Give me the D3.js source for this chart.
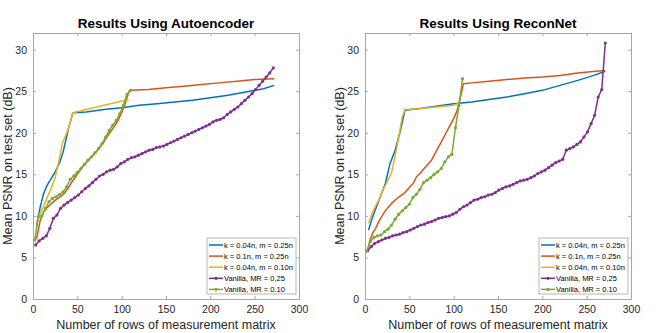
<!DOCTYPE html>
<html>
<head>
<meta charset="utf-8">
<script src="https://cdn.jsdelivr.net/npm/d3@7"></script>
<style>
  body { margin: 0; background: #fff; }
  svg { display: block; font-family: "Liberation Sans", Arial, sans-serif; }
</style>
</head>
<body>
<div id="chart"></div>
<script>
// series labels and colours (MATLAB default order)
const seriesLabels = ["k = 0.04n, m = 0.25n", "k = 0.1n, m = 0.25n", "k = 0.04n, m = 0.10n",
                      "Vanilla, MR = 0,25", "Vanilla, MR = 0.10"];
const seriesColors = ["#0072BD", "#D95319", "#EDB120", "#7E2F8E", "#77AC30"];
const xTicks = [0, 50, 100, 150, 200, 250, 300];
const yTicks = [0, 5, 10, 15, 20, 25, 30];

// rows of measurement matrix used by the vanilla runs
const vanilla25Rows = [3, 7, 11, 15, 19, 23, 27, 31, 35, 39, 43, 47, 51, 55, 59, 63, 67, 71, 75, 79,
  83, 87, 91, 95, 99, 103, 107, 111, 115, 119, 123, 127, 131, 135, 139, 143, 147, 151, 155, 159,
  163, 167, 171, 175, 179, 183, 187, 191, 195, 199, 203, 207, 211, 215, 219, 223, 227, 231, 235, 239,
  243, 247, 251, 255, 259, 263, 267, 271];
const vanilla10Rows = [2, 6, 10, 14, 18, 22, 26, 30, 34, 38, 42, 46, 50, 54, 58, 62, 66, 70, 74, 78,
  82, 86, 90, 94, 98, 102, 106, 110];

// ---- Autoencoder panel ----
const aeK04M25Rows = [4, 8, 12, 16, 20, 25, 30, 34, 40, 45, 60, 80, 100, 120, 140, 160, 180, 200, 220, 240, 260, 272];
const aeK04M25Psnr = [8.8, 11.0, 12.7, 13.7, 14.4, 15.3, 16.4, 17.7, 20.5, 22.4, 22.5, 22.8, 23.0, 23.3, 23.5, 23.7, 23.9, 24.2, 24.5, 24.9, 25.3, 25.7];
const aeK1M25Rows = [4, 8, 12, 16, 20, 24, 28, 32, 36, 40, 44, 48, 52, 56, 60, 64, 68, 72, 76, 80, 84, 88,
  92, 96, 100, 104, 108, 110, 130, 150, 170, 190, 210, 230, 250, 272];
const aeK1M25Psnr = [7.2, 9.4, 10.5, 11.0, 11.4, 11.8, 12.1, 12.4, 12.8, 13.4, 14.1, 14.7, 15.3, 15.9, 16.4, 16.9,
  17.3, 17.8, 18.3, 18.9, 19.6, 20.2, 20.8, 21.5, 22.4, 23.5, 24.9, 25.1, 25.2, 25.4, 25.6, 25.8, 26.0, 26.2, 26.4, 26.5];
const aeK04M10Rows = [4, 8, 12, 16, 20, 25, 30, 33, 40, 45, 60, 80, 100, 108];
const aeK04M10Psnr = [9.1, 10.3, 11.2, 12.2, 13.2, 14.6, 17.0, 18.7, 20.5, 22.4, 22.8, 23.3, 23.8, 23.9];
const aeVanilla25Psnr = [6.5, 7.0, 7.3, 7.6, 8.5, 9.7, 10.1, 10.9, 11.3, 11.6, 11.9, 12.2, 12.5, 12.9, 13.3, 13.6,
  14.0, 14.4, 14.8, 15.0, 15.3, 15.5, 15.6, 15.9, 16.3, 16.5, 16.8, 17.0, 17.1, 17.3, 17.5, 17.7, 17.9, 18.0,
  18.2, 18.3, 18.4, 18.6, 18.8, 19.0, 19.2, 19.4, 19.6, 19.8, 20.0, 20.2, 20.4, 20.6, 20.8, 21.0, 21.3, 21.5,
  21.6, 21.8, 22.2, 22.5, 22.8, 23.1, 23.5, 23.9, 24.3, 24.7, 25.2, 25.7, 26.2, 26.7, 27.2, 27.8];
const aeVanilla10Psnr = [7.1, 9.9, 10.0, 10.9, 11.7, 12.1, 12.3, 12.6, 12.9, 13.5, 14.4, 14.8, 15.2, 15.7, 16.2,
  16.7, 17.1, 17.6, 18.1, 18.7, 19.5, 20.3, 20.9, 21.5, 22.3, 23.3, 24.6, 25.1];

// ---- ReconNet panel ----
const rnK04M25Rows = [4, 8, 13, 18, 23, 28, 34, 40, 45, 60, 80, 100, 120, 140, 160, 180, 200, 220, 240, 258, 271];
const rnK04M25Psnr = [8.3, 9.7, 11.1, 12.5, 13.9, 16.2, 17.9, 20.3, 22.7, 22.9, 23.2, 23.5, 23.7, 24.0, 24.3, 24.7, 25.1, 25.7, 26.3, 26.9, 27.4];
const rnK1M25Rows = [3, 6, 9, 12, 15, 18, 21, 25, 30, 35, 40, 45, 50, 55, 58, 62, 66, 70, 75, 80, 85, 90, 95,
  100, 104, 108, 111, 120, 140, 160, 180, 200, 220, 240, 260, 271];
const rnK1M25Psnr = [5.9, 7.2, 8.0, 8.5, 9.2, 9.8, 10.3, 10.9, 11.5, 12.0, 12.4, 12.8, 13.4, 14.0, 14.7, 15.1, 15.6,
  16.1, 16.7, 17.7, 18.7, 19.7, 20.7, 21.7, 22.7, 24.4, 25.9, 26.0, 26.2, 26.4, 26.6, 26.7, 26.9, 27.2, 27.4, 27.5];
const rnK04M10Rows = [4, 8, 12, 16, 20, 25, 30, 36, 42, 45, 60, 80, 100, 107];
const rnK04M10Psnr = [9.1, 10.3, 11.2, 12.0, 13.0, 14.1, 15.2, 18.3, 21.9, 22.8, 22.9, 23.1, 23.3, 23.6];
const rnVanilla25Psnr = [5.8, 6.3, 6.7, 6.9, 7.1, 7.3, 7.4, 7.6, 7.7, 7.8, 8.0, 8.1, 8.3, 8.5, 8.7, 8.9, 9.0, 9.2,
  9.3, 9.5, 9.7, 9.8, 9.9, 10.0, 10.2, 10.4, 10.8, 11.1, 11.3, 11.6, 11.9, 12.0, 12.2, 12.3, 12.5, 12.6, 12.8,
  13.1, 13.3, 13.5, 13.6, 13.8, 14.0, 14.2, 14.3, 14.4, 14.6, 14.8, 15.1, 15.3, 15.5, 15.8, 16.1, 16.4, 16.6,
  16.8, 17.9, 18.1, 18.3, 18.6, 18.9, 19.5, 20.1, 21.1, 22.1, 24.3, 25.2, 30.8];
const rnVanilla10Psnr = [5.8, 6.9, 7.4, 7.6, 7.7, 8.1, 8.4, 8.9, 9.6, 10.2, 10.6, 11.0, 11.4, 12.2, 12.6, 13.2,
  14.0, 14.3, 14.6, 15.0, 15.3, 15.7, 16.5, 17.1, 17.4, 20.6, 23.3, 26.5];

const W = 664, H = 333;
const svg = d3.select("#chart").append("svg")
  .attr("width", W)
  .attr("height", H);

function makeSeries(rows, psnr, i, markers) {
  return { values: rows.map((r, j) => ({ x: r, y: psnr[j] })), color: seriesColors[i], label: seriesLabels[i], markers };
}

function drawPanel(left, title, series) {
  const top = 33, bottom = 299, right = left + 266;
  const x = d3.scaleLinear().domain([0, 300]).range([left, right]);
  const y = d3.scaleLinear().domain([0, 32]).range([bottom, top]);
  const g = svg.append("g");

  // axes (MATLAB style: box with inward ticks on all sides)
  g.append("g")
    .attr("transform", `translate(0,${bottom})`)
    .call(d3.axisBottom(x).tickValues(xTicks).tickSizeInner(-3).tickSizeOuter(0).tickPadding(7));
  g.append("g")
    .attr("transform", `translate(${left},0)`)
    .call(d3.axisLeft(y).tickValues(yTicks).tickSizeInner(-3).tickSizeOuter(0).tickPadding(6));
  g.append("g")
    .attr("transform", `translate(0,${top})`)
    .call(d3.axisTop(x).tickValues(xTicks).tickSizeInner(-3).tickSizeOuter(0).tickFormat(""));
  g.append("g")
    .attr("transform", `translate(${right},0)`)
    .call(d3.axisRight(y).tickValues(yTicks).tickSizeInner(-3).tickSizeOuter(0).tickFormat(""));
  g.selectAll(".domain").attr("stroke", "#a6a6a6");
  g.selectAll(".tick line").attr("stroke", "#a6a6a6");
  g.selectAll(".tick text").attr("fill", "#262626").style("font-size", "10.5px");

  const line = d3.line().x(d => x(d.x)).y(d => y(d.y));
  series.forEach(s => {
    g.append("path")
      .datum(s.values)
      .attr("fill", "none")
      .attr("stroke", s.color)
      .attr("stroke-width", 1.5)
      .attr("stroke-linejoin", "round")
      .attr("d", line);
    if (s.markers) {
      g.selectAll(null)
        .data(s.values)
        .enter().append("circle")
        .attr("cx", d => x(d.x))
        .attr("cy", d => y(d.y))
        .attr("r", 1.6)
        .attr("fill", s.color);
    }
  });

  // title and labels
  g.append("text")
    .attr("x", (left + right) / 2)
    .attr("y", 28)
    .attr("text-anchor", "middle")
    .style("font-size", "13.5px")
    .style("font-weight", "bold")
    .attr("fill", "#000")
    .text(title);
  g.append("text")
    .attr("x", (left + right) / 2)
    .attr("y", 329)
    .attr("text-anchor", "middle")
    .style("font-size", "12.5px")
    .attr("fill", "#262626")
    .text("Number of rows of measurement matrix");
  g.append("text")
    .attr("transform", `translate(${left - 21},${(top + bottom) / 2}) rotate(-90)`)
    .attr("text-anchor", "middle")
    .style("font-size", "12.5px")
    .attr("fill", "#262626")
    .text("Mean PSNR on test set (dB)");

  // legend
  const lx = right - 92, ly = 238, rowH = 11.1;
  const legend = g.append("g").attr("class", "legend");
  legend.append("rect")
    .attr("x", lx).attr("y", ly)
    .attr("width", 89).attr("height", 56)
    .attr("fill", "#fff")
    .attr("stroke", "#a6a6a6")
    .attr("stroke-width", 0.8);
  const rows = legend.selectAll(".row")
    .data(series)
    .enter().append("g")
    .attr("transform", (d, i) => `translate(${lx},${ly + 7 + i * rowH})`);
  rows.append("line")
    .attr("x1", 2).attr("x2", 16)
    .attr("stroke", d => d.color)
    .attr("stroke-width", 1.5);
  rows.filter(d => d.markers).append("circle")
    .attr("cx", 9).attr("r", 1.6)
    .attr("fill", d => d.color);
  rows.append("text")
    .attr("x", 17)
    .attr("dy", "0.35em")
    .style("font-size", "7.5px")
    .attr("fill", "#000")
    .text(d => d.label);
}

drawPanel(33, "Results Using Autoencoder", [
  makeSeries(aeK04M25Rows, aeK04M25Psnr, 0, false),
  makeSeries(aeK1M25Rows, aeK1M25Psnr, 1, false),
  makeSeries(aeK04M10Rows, aeK04M10Psnr, 2, false),
  makeSeries(vanilla25Rows, aeVanilla25Psnr, 3, true),
  makeSeries(vanilla10Rows, aeVanilla10Psnr, 4, true)
]);

drawPanel(365, "Results Using ReconNet", [
  makeSeries(rnK04M25Rows, rnK04M25Psnr, 0, false),
  makeSeries(rnK1M25Rows, rnK1M25Psnr, 1, false),
  makeSeries(rnK04M10Rows, rnK04M10Psnr, 2, false),
  makeSeries(vanilla25Rows, rnVanilla25Psnr, 3, true),
  makeSeries(vanilla10Rows, rnVanilla10Psnr, 4, true)
]);
</script>
</body>
</html>
